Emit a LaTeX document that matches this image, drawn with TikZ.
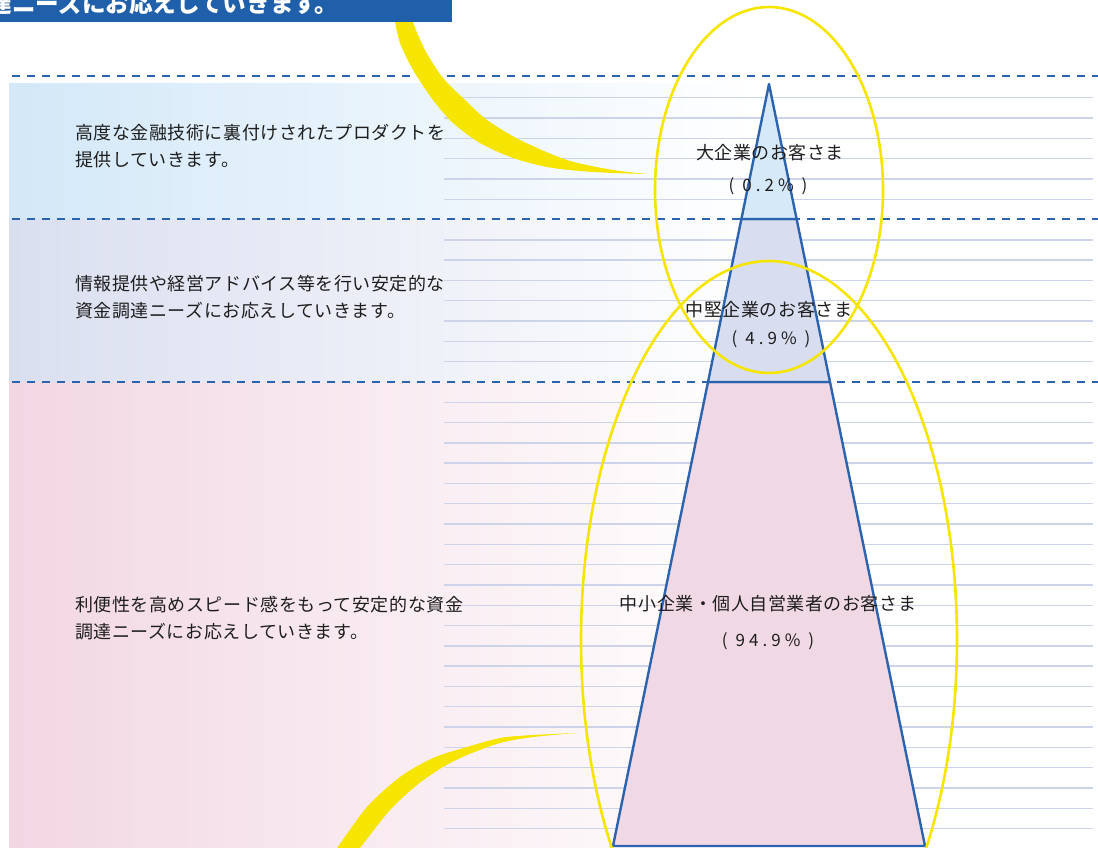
\documentclass[tikz,border=0pt]{standalone}
\usepackage{fontspec}
\setmainfont{Noto Sans CJK JP}
\newfontfamily\jpsp[LetterSpace=3]{Noto Sans CJK JP}
\newfontfamily\numsp[LetterSpace=24]{Noto Sans CJK JP}
\definecolor{bandblue}{HTML}{D3E8F8}
\definecolor{bandpurple}{HTML}{DADFF0}
\definecolor{bandpink}{HTML}{F2D7E3}
\definecolor{rulegray}{HTML}{CDD4EA}
\definecolor{dashblue}{HTML}{2B63AE}
\definecolor{trione}{HTML}{D6E9F8}
\definecolor{tritwo}{HTML}{D8DDEF}
\definecolor{trithree}{HTML}{F1D8E5}
\definecolor{swyellow}{HTML}{F6E500}
\definecolor{bannerblue}{HTML}{2060AA}
\definecolor{txt}{HTML}{1E1E1E}
\tikzset{
  dashrule/.style={draw=dashblue, line width=2.4pt, dash pattern=on 8pt off 7pt},
  thinrule/.style={draw=rulegray, line width=1.4pt},
  tripart/.style={draw=dashblue, line width=2.4pt, line join=round},
  ringline/.style={draw=swyellow, line width=2.6pt},
  bodytext/.style={anchor=base west, inner sep=0pt, text=txt, font=\jpsp\fontsize{18}{20}\selectfont},
  labeltext/.style={anchor=base, inner sep=0pt, text=txt, font=\jpsp\fontsize{18}{20}\selectfont},
  pcttext/.style={anchor=base, inner sep=0pt, text=txt, font=\numsp\fontsize{17}{20}\selectfont}
}
\begin{document}
\begin{tikzpicture}[x=1pt,y=-1pt]
\useasboundingbox (0,0) rectangle (1098,848);
% background bands
\shade[left color=bandblue, right color=white] (9,84) rectangle (760,219);
\shade[left color=bandpurple, right color=white] (9,219) rectangle (760,382);
\shade[left color=bandpink, right color=white] (9,382) rectangle (760,848);
% thin rules
\foreach \k in {0,...,36}{
  \ifnum\k=6\relax\else\ifnum\k=14\relax\else
    \draw[thinrule] (444,{97.7+20.3*\k}) -- (1093,{97.7+20.3*\k});
  \fi\fi
}
% dashed rules
\coordinate (d1l) at (12,76);   \coordinate (d1r) at (1098,76);
\coordinate (d2l) at (12,219);  \coordinate (d2r) at (1098,219);
\coordinate (d3l) at (12,382);  \coordinate (d3r) at (1098,382);
\draw[dashrule] (d1l) -- (d1r);
\draw[dashrule] (d2l) -- (d2r);
\draw[dashrule] (d3l) -- (d3r);
% pyramid
\coordinate (apex) at (769,84);
\coordinate (a1l) at (741.4,219); \coordinate (a1r) at (796.6,219);
\coordinate (a2l) at (708,382);   \coordinate (a2r) at (830,382);
\coordinate (bl) at (613,846);    \coordinate (br) at (925,846);
\filldraw[tripart, fill=trithree] (a2l) -- (a2r) -- (br) -- (bl) -- cycle;
\filldraw[tripart, fill=tritwo] (a1l) -- (a1r) -- (a2r) -- (a2l) -- cycle;
\filldraw[tripart, fill=trione] (apex) -- (a1r) -- (a1l) -- cycle;
% swooshes
\fill[swyellow] plot[smooth, tension=0.5] coordinates {(390,0) (395,22) (400,43) (413,70) (433,100) (453,123) (480,143) (513,158) (547,167) (580,171) (613,173) (648,174)}
  -- plot[smooth, tension=0.5] coordinates {(648,174) (613,170) (567,160) (520,140) (487,120) (465,100) (443,78) (425,50) (413,22) (408,0)} -- cycle;
\fill[swyellow] plot[smooth, tension=0.5] coordinates {(328,860) (337,848) (367,807) (400,777) (433,758) (467,747) (500,738) (533,735) (577,733)}
  -- plot[smooth, tension=0.5] coordinates {(577,733) (533,737) (500,743) (467,755) (443,767) (417,785) (390,810) (360,848) (351,860)} -- cycle;
% rings
\draw[ringline] (769,190) ellipse [x radius=114pt, y radius=183pt];
\draw[ringline] (769,640) ellipse [x radius=188pt, y radius=379pt];
% banner
\fill[bannerblue] (0,0) rectangle (452,22);
\node[anchor=base west, inner sep=0pt, text=white, font=\bfseries\fontsize{23.6}{24}\selectfont] (banner) at (-35,13) {調達ニーズにお応えしていきます。};
% body texts
\node[bodytext] (s1a) at (75,140) {高度な金融技術に裏付けされたプロダクトを};
\node[bodytext] (s1b) at (75,166.6) {提供していきます。};
\node[bodytext] (s2a) at (75,290.6) {情報提供や経営アドバイス等を行い安定的な};
\node[bodytext] (s2b) at (75,317.6) {資金調達ニーズにお応えしていきます。};
\node[bodytext] (s3a) at (75,611) {利便性を高めスピード感をもって安定的な資金};
\node[bodytext] (s3b) at (75,638.6) {調達ニーズにお応えしていきます。};
% pyramid labels
\node[labeltext] (l1) at (770,160) {大企業のお客さま};
\node[pcttext] (p1) at (768,191) {( 0.2\% )};
\node[labeltext] (l2) at (769,316.6) {中堅企業のお客さま};
\node[pcttext] (p2) at (771,344) {( 4.9\% )};
\node[labeltext] (l3) at (768,610) {中小企業・個人自営業者のお客さま};
\node[pcttext] (p3) at (768,646) {( 94.9\% )};
\end{tikzpicture}
\end{document}
